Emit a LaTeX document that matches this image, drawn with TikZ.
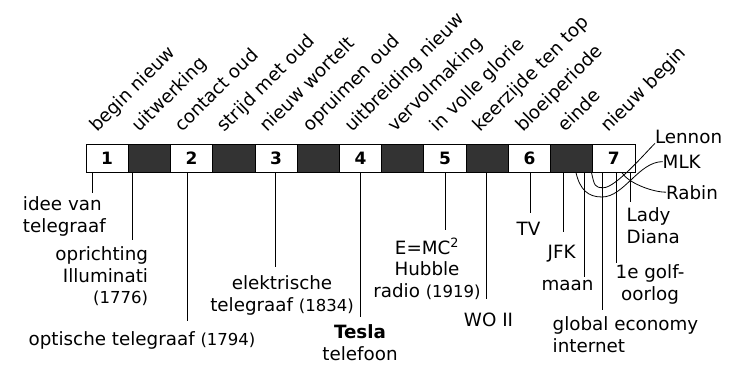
\documentclass[tikz,border=0pt]{standalone}
\usepackage{fontspec}
\setmainfont{DejaVu Sans}
\usepackage{xcolor}
\definecolor{cycledark}{RGB}{51,51,51}
\usetikzlibrary{positioning,calc}

\newcommand{\yr}[1]{{\fontsize{16.5}{21.5}\selectfont #1}}

\tikzset{
  phasecell/.style={draw=black, line width=0.8pt, minimum width=42.23pt, minimum height=28.4pt, inner sep=0pt, font=\fontsize{17}{20}\selectfont\bfseries},
  phaselbl/.style={rotate=45, anchor=base west, inner sep=0pt, font=\fontsize{18.3}{21.5}\selectfont},
  eventlbl/.style={inner sep=0pt, outer xsep=0pt, outer ysep=#1, font=\fontsize{18.3}{21.5}\selectfont},
  eventlbl/.default=6pt,
  leader/.style={line width=0.8pt}
}

\begin{document}
\begin{tikzpicture}[x=1pt, y=1pt]
    \useasboundingbox (0,0) rectangle (733,-364);

    % Cycle bar: 13 phases, the light ones numbered
    \foreach \i in {1,...,13} {
        \pgfmathtruncatemacro\num{(\i+1)/2}
        \pgfmathtruncatemacro\isodd{mod(\i,2)}
        \ifnum\isodd=1
            \node[phasecell, fill=white] (c\i) at ({86+42.23*(\i-0.5)}, -158.5) {\num};
        \else
            \node[phasecell, fill=cycledark] (c\i) at ({86+42.23*(\i-0.5)}, -158.5) {};
        \fi
    }

    % Phase labels
    \foreach \i/\lab in {1/begin nieuw, 2/uitwerking, 3/contact oud, 4/strijd met oud, 5/nieuw wortelt, 6/opruimen oud, 7/uitbreiding nieuw, 8/vervolmaking, 9/in volle glorie, 10/keerzijde ten top, 11/bloeiperiode, 12/einde, 13/nieuw begin}
        \node[phaselbl] (p\i) at ({97+42.6*(\i-1)}, -133) {\lab};

    % Event positions on the bar
    \foreach \ev/\x in {idee/92.3, oprichting/132.7, optisch/187.3, elektrisch/275, tesla/360, hubble/445, wo/486.7, tv/530, jfk/563.3, maan/584, internet/602.7, golf/616.7, diana/630, mlk/576, lennon/591.5, rabin/622}
        \coordinate (e\ev) at (\x, -172.7);

    % Events below the bar
    \node[eventlbl=4pt, anchor=north west, align=left] (idee) at (23, -192.7) {idee van\\telegraaf};
    \node[eventlbl=6.7pt, anchor=north east, align=right] (oprichting) at (148, -240) {oprichting\\Illuminati\\\yr{(1776)}};
    \node[eventlbl=11pt, anchor=north] (optisch) at (142, -320.7) {optische telegraaf \yr{(1794)}};
    \node[eventlbl=9.3pt, anchor=north, align=center] (elektrisch) at (282, -266.7) {elektrische\\telegraaf \yr{(1834)}};
    \node[eventlbl=8.3pt, anchor=north, align=center] (tesla) at (360, -316.7) {\textbf{Tesla}\\telefoon};
    \node[eventlbl=8.3pt, anchor=north, align=center] (hubble) at (427, -230) {E=MC\textsuperscript{2}\\Hubble\\radio \yr{(1919)}};
    \node[eventlbl=14.3pt, anchor=north] (wo) at (488.5, -299) {WO II};
    \node[eventlbl=8.7pt, anchor=north] (tv) at (528.5, -213) {TV};
    \node[eventlbl=13.3pt, anchor=north] (jfk) at (561.7, -231.7) {JFK};
    \node[eventlbl=3.3pt, anchor=north] (maan) at (567.5, -276.7) {maan};
    \node[eventlbl=6.7pt, anchor=north west, align=left] (internet) at (552.7, -310) {global economy\\internet};
    \node[eventlbl=2pt, anchor=north, align=center] (golf) at (650, -263) {1e golf-\\oorlog};
    \node[eventlbl=6pt, anchor=north west, align=left] (diana) at (626.7, -201.7) {Lady\\Diana};

    \foreach \ev in {idee, oprichting, optisch, elektrisch, tesla, hubble, wo, tv, jfk, maan, internet, golf, diana}
        \draw[leader] (e\ev) -- (e\ev |- \ev.north);

    % Events with curved leaders
    \node[eventlbl=0pt, anchor=base west] (lennon) at (655, -143.3) {Lennon};
    \node[eventlbl=0pt, anchor=base west] (mlk) at (662.7, -168.3) {MLK};
    \node[eventlbl=0pt, anchor=base west] (rabin) at (666, -199) {Rabin};
    \coordinate (mlkdip) at (602, -197);
    \coordinate (lennondip) at (603.5, -187.7);

    \draw[leader] (emlk) .. controls +(4,-17) and +(-14,0) .. (mlkdip) .. controls +(22,0) and +(-24,0) .. (mlk.west);
    \draw[leader] (elennon) .. controls +(3,-13) and +(-9,0) .. (lennondip) .. controls +(12,0) and +(-10,-10) .. (lennon.base west);
    \draw[leader] (erabin) .. controls +(6,-10) and +(-14,0) .. (rabin.west);
\end{tikzpicture}
\end{document}
